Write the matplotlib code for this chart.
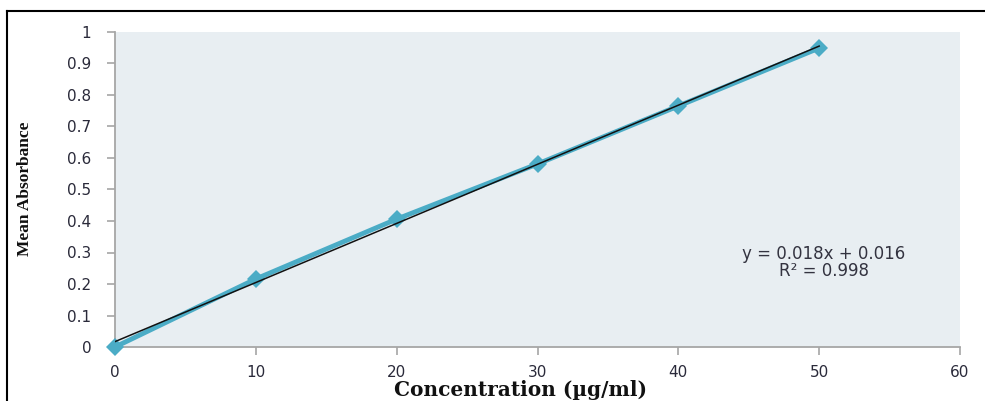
import matplotlib
matplotlib.use("Agg")
import matplotlib.pyplot as plt
from matplotlib.lines import Line2D
import numpy as np

concentration = [0, 10, 20, 30, 40, 50]
absorbance = [0.0, 0.216, 0.406, 0.581, 0.765, 0.949]
eq_slope = 0.018
eq_intercept = 0.016
r2 = 0.998
xticks = [0, 10, 20, 30, 40, 50, 60]
yticks = [0, 0.1, 0.2, 0.3, 0.4, 0.5, 0.6, 0.7, 0.8, 0.9, 1]
ytick_labels = ["0", "0.1", "0.2", "0.3", "0.4", "0.5", "0.6", "0.7", "0.8", "0.9", "1"]

fig = plt.figure(figsize=(9.85, 4.01), dpi=100)
ax = fig.add_axes([115/985, 1-347/401, (960-115)/985, (347-32)/401])
ax.set_facecolor("#E8EEF2")

series_color = "#4BACC6"
ax.plot(concentration, absorbance, color=series_color, lw=3.5, marker="D",
        markersize=9, markeredgewidth=0, clip_on=False, zorder=3)
# linear trendline (least squares of the data)
fit_slope, fit_intercept = np.polyfit(concentration, absorbance, 1)
xfit = np.array([concentration[0], concentration[-1]])
ax.plot(xfit, fit_slope*xfit + fit_intercept, color="#111111", lw=1.1, zorder=4)

ax.set_xlim(0, 60)
ax.set_ylim(0, 1)
ax.set_xticks(xticks)
ax.set_xticklabels([str(t) for t in xticks])
ax.set_yticks(yticks)
ax.set_yticklabels(ytick_labels)

for s in ["top", "right"]:
    ax.spines[s].set_visible(False)
for s in ["left", "bottom"]:
    ax.spines[s].set_color("#A6A6A6")
    ax.spines[s].set_linewidth(1.3)
ax.tick_params(axis="both", direction="out", length=6, width=1.2, color="#A6A6A6",
               labelsize=11, labelcolor="#2A2A3A")
ax.tick_params(axis="x", pad=7)
ax.tick_params(axis="y", pad=11)

ax.set_xlabel("Concentration (µg/ml)", family="DejaVu Serif", fontweight="bold",
              fontsize=14.5, color="#111111")
ax.xaxis.set_label_coords((520-115)/845, (347-390)/315)
ax.xaxis.label.set_va("center")
ax.set_ylabel("Mean Absorbance", family="Liberation Serif", fontweight="bold",
              fontsize=12.5, color="#111111")
ax.yaxis.set_label_coords((25-115)/845, (347-189)/315)
ax.yaxis.label.set_va("center")

ax.text(824/985, 1-254/401, f"y = {eq_slope}x + {eq_intercept}", transform=fig.transFigure,
        ha="center", va="center", fontsize=12, color="#333340")
ax.text(824/985, 1-271/401, f"R² = {r2}", transform=fig.transFigure,
        ha="center", va="center", fontsize=12, color="#333340")

# outer frame
fig.add_artist(Line2D([7/985, 1.0], [1-11/401, 1-11/401], transform=fig.transFigure,
                      color="black", lw=1.5))
fig.add_artist(Line2D([7/985, 7/985], [0, 1-11/401], transform=fig.transFigure,
                      color="black", lw=1.5))

fig.savefig("out.png", dpi=100)
